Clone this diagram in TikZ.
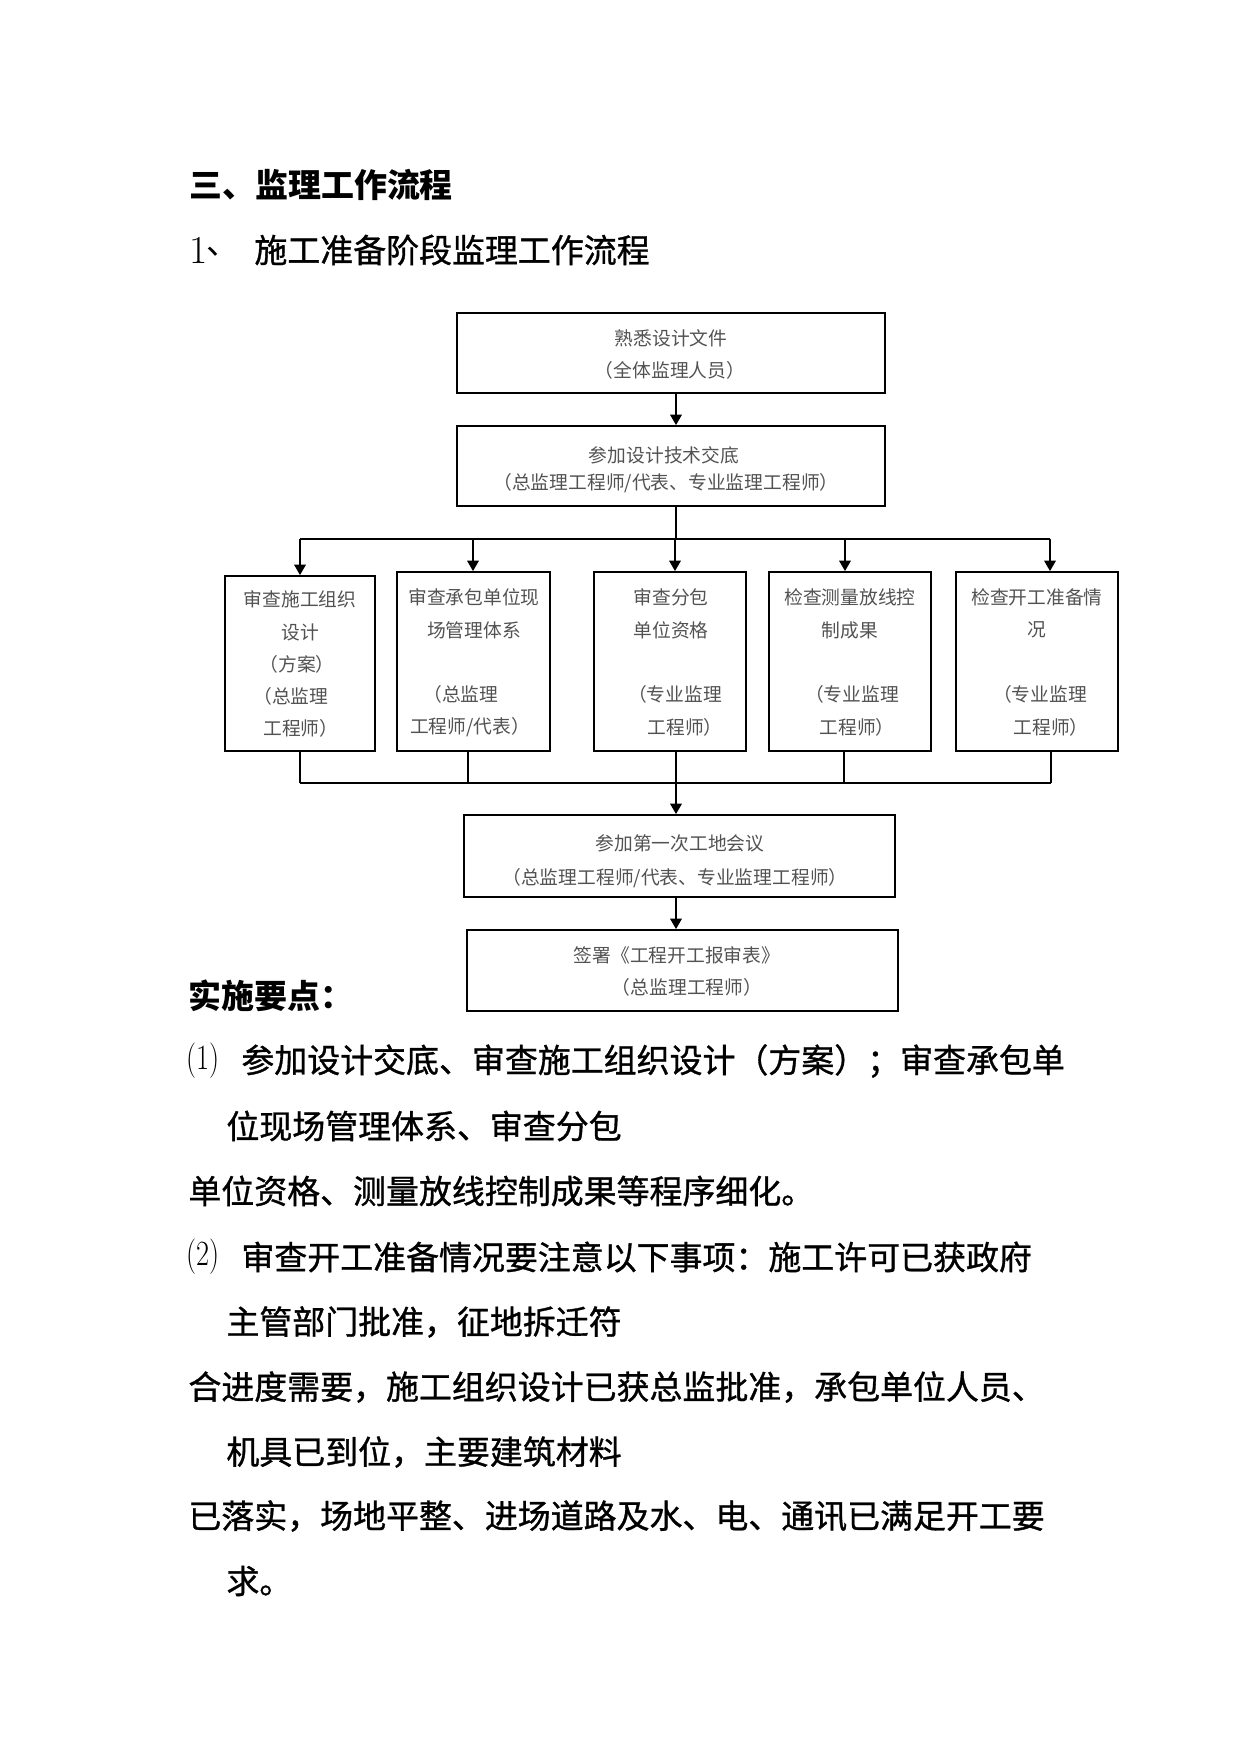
\documentclass[tikz,border=0pt]{standalone}
\usepackage{fontspec}
\usepackage{graphicx}
\newfontfamily\cjk{Noto Sans CJK SC}
\newfontfamily\cjkbody{Noto Sans CJK SC}[FakeBold=1.0]
\usetikzlibrary{arrows.meta,fit}
\begin{document}
\begin{tikzpicture}[x=0.4797pt,y=-0.4797pt,
  box/.style={draw,line width=0.85pt,inner sep=0pt},
  boxtxt/.style={font=\cjk\fontsize{9}{10}\selectfont,text=black!68,inner sep=0pt},
  vline/.style={line width=0.85pt},
  hline/.style={line width=0.55pt},
  arr/.style={line width=0.85pt,-{Triangle[width=5.5pt,length=5pt]}},
  body/.style={font=\cjkbody\fontsize{15.8}{18}\selectfont,anchor=west,inner sep=0pt},
  head/.style={font=\cjk\bfseries\fontsize{15.8}{18}\selectfont,anchor=west,inner sep=0pt},
  num/.style={font=\fontsize{17}{18}\selectfont,anchor=west,inner sep=0pt}]
\useasboundingbox (0,0) rectangle (1241,1754);

% headings
\node[head] (h1) at (189,185) {三、监理工作流程};
\node[num] (h2n) at (189,250) {\fontsize{19}{20}\selectfont 1};
\node[body,font=\cjk\fontsize{15.8}{18}\selectfont] (h2c) at (206,252) {、};
\node[body] (h2) at (254,250) {施工准备阶段监理工作流程};

% column coordinates
\coordinate (spine) at (676,0);
\coordinate (c1) at (300,0);
\coordinate (c2) at (473,0);
\coordinate (c3) at (675,0);
\coordinate (c4) at (845,0);
\coordinate (c5) at (1050,0);
\coordinate (d1) at (300,0);
\coordinate (d2) at (468,0);
\coordinate (d4) at (844,0);
\coordinate (d5) at (1051,0);
\coordinate (split) at (676,539);
\coordinate (merge) at (676,783);

% wide boxes
\node[box,fit={(457,313) (885,393)}] (b1) {};
\node[boxtxt] (b1a) at (671,338) {熟悉设计文件};
\node[boxtxt] (b1b) at (670,370) {（全体监理人员）};

\node[box,fit={(457,426) (885,506)}] (b2) {};
\node[boxtxt] (b2a) at (664,455) {参加设计技术交底};
\node[boxtxt] (b2b) at (666,483) {（总监理工程师/代表、专业监理工程师）};

\node[box,fit={(464,815) (895,897)}] (b3) {};
\node[boxtxt] (b3a) at (680,843) {参加第一次工地会议};
\node[boxtxt] (b3b) at (675,878) {（总监理工程师/代表、专业监理工程师）};

\node[box,fit={(467,930) (898,1011)}] (b4) {};
\node[boxtxt] (b4a) at (677,955) {签署《工程开工报审表》};
\node[boxtxt] (b4b) at (687,987) {（总监理工程师）};

% small boxes
\node[box,fit={(225,576) (375,751)}] (s1) {};
\node[boxtxt] (s1a) at (300,599) {审查施工组织};
\node[boxtxt] (s1b) at (300,632) {设计};
\node[boxtxt] (s1c) at (297,664) {（方案）};
\node[boxtxt,anchor=west] (s1d) at (253,696) {（总监理};
\node[boxtxt,anchor=west] (s1e) at (263,728) {工程师）};

\node[box,fit={(397,572) (550,751)}] (s2) {};
\node[boxtxt] (s2a) at (474,597) {审查承包单位现};
\node[boxtxt] (s2b) at (474,630) {场管理体系};
\node[boxtxt,anchor=west] (s2c) at (423,694) {（总监理};
\node[boxtxt] (s2d) at (470,727) {工程师/代表）};

\node[box,fit={(594,572) (746,751)}] (s3) {};
\node[boxtxt] (s3a) at (671,597) {审查分包};
\node[boxtxt] (s3b) at (671,630) {单位资格};
\node[boxtxt] (s3c) at (675,694) {（专业监理};
\node[boxtxt] (s3d) at (685,727) {工程师）};

\node[box,fit={(769,572) (931,751)}] (s4) {};
\node[boxtxt] (s4a) at (850,597) {检查测量放线控};
\node[boxtxt] (s4b) at (850,630) {制成果};
\node[boxtxt] (s4c) at (852,694) {（专业监理};
\node[boxtxt] (s4d) at (857,727) {工程师）};

\node[box,fit={(956,572) (1118,751)}] (s5) {};
\node[boxtxt] (s5a) at (1037,597) {检查开工准备情};
\node[boxtxt] (s5b) at (1037,630) {况};
\node[boxtxt] (s5c) at (1040,694) {（专业监理};
\node[boxtxt] (s5d) at (1051,727) {工程师）};

% connectors
\draw[arr] (b1.south -| spine) -- (b2.north -| spine);
\draw[vline] (b2.south -| spine) -- (split);
\draw[hline] (split -| c1) -- (split -| c5);
\draw[arr] (split -| c1) -- (s1.north -| c1);
\draw[arr] (split -| c2) -- (s2.north -| c2);
\draw[arr] (split -| c3) -- (s3.north -| c3);
\draw[arr] (split -| c4) -- (s4.north -| c4);
\draw[arr] (split -| c5) -- (s5.north -| c5);
\draw[vline] (s1.south -| d1) -- (merge -| d1);
\draw[vline] (s2.south -| d2) -- (merge -| d2);
\draw[vline] (s4.south -| d4) -- (merge -| d4);
\draw[vline] (s5.south -| d5) -- (merge -| d5);
\draw[hline] (merge -| d1) -- (merge -| d5);
\draw[arr] (s3.south -| spine) -- (b3.north -| spine);
\draw[arr] (b3.south -| spine) -- (b4.north -| spine);

% body text
\node[head] (t0) at (188,996) {实施要点：};
\node[num] (n1) at (186,1061) {\scalebox{0.8}[1]{(1)}};
\node[body] (t1) at (241,1061) {参加设计交底、审查施工组织设计（方案）；审查承包单};
\node[body] (t2) at (226,1126) {位现场管理体系、审查分包};
\node[body] (t3) at (188,1191) {单位资格、测量放线控制成果等程序细化。};
\node[num] (n2) at (186,1257) {\scalebox{0.8}[1]{(2)}};
\node[body] (t4) at (241,1257) {审查开工准备情况要注意以下事项：施工许可已获政府};
\node[body] (t5) at (226,1322) {主管部门批准，征地拆迁符};
\node[body] (t6) at (188,1387) {合进度需要，施工组织设计已获总监批准，承包单位人员、};
\node[body] (t7) at (226,1452) {机具已到位，主要建筑材料};
\node[body] (t8) at (188,1516) {已落实，场地平整、进场道路及水、电、通讯已满足开工要};
\node[body] (t9) at (226,1581) {求。};
\end{tikzpicture}
\end{document}
